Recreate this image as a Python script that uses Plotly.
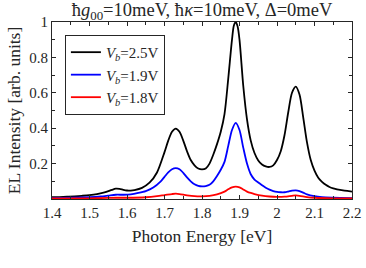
import plotly.graph_objects as go

# Black: V_b = 2.5 V
energy_25 = [1.40, 1.42, 1.44, 1.46, 1.48, 1.50, 1.52, 1.54, 1.56, 1.57, 1.58, 1.59, 1.60, 1.61, 1.62,
             1.64, 1.66, 1.68, 1.70, 1.71, 1.72, 1.73, 1.74, 1.75, 1.76, 1.77, 1.78, 1.79, 1.80, 1.81,
             1.82, 1.83, 1.84, 1.85, 1.86, 1.87, 1.88, 1.885, 1.89, 1.895, 1.90, 1.91, 1.92, 1.93, 1.94,
             1.95, 1.96, 1.97, 1.98, 1.99, 2.00, 2.01, 2.02, 2.03, 2.04, 2.05, 2.06, 2.07, 2.08, 2.09,
             2.10, 2.11, 2.12, 2.13, 2.14, 2.15, 2.16, 2.18, 2.20]
intensity_25 = [0.010, 0.011, 0.013, 0.015, 0.018, 0.022, 0.028, 0.037, 0.052, 0.058, 0.057, 0.052, 0.048, 0.047, 0.050,
                0.063, 0.092, 0.150, 0.265, 0.330, 0.380, 0.398, 0.380, 0.330, 0.270, 0.220, 0.190, 0.172, 0.167, 0.172,
                0.200, 0.250, 0.310, 0.380, 0.480, 0.680, 0.900, 0.980, 1.000, 0.975, 0.900, 0.640, 0.450, 0.330, 0.260,
                0.218, 0.195, 0.184, 0.181, 0.190, 0.220, 0.270, 0.360, 0.490, 0.600, 0.635, 0.590, 0.460, 0.320, 0.220,
                0.160, 0.120, 0.097, 0.080, 0.068, 0.060, 0.054, 0.047, 0.042]

# Blue: V_b = 1.9 V
energy_19 = [1.40, 1.45, 1.50, 1.53, 1.55, 1.57, 1.59, 1.61, 1.63, 1.65, 1.67, 1.69, 1.70, 1.71, 1.72,
             1.73, 1.74, 1.75, 1.76, 1.77, 1.78, 1.79, 1.80, 1.81, 1.82, 1.83, 1.84, 1.85, 1.86, 1.87,
             1.88, 1.89, 1.90, 1.91, 1.92, 1.93, 1.94, 1.95, 1.96, 1.97, 1.98, 1.99, 2.00, 2.01, 2.02,
             2.03, 2.04, 2.05, 2.06, 2.07, 2.08, 2.10, 2.12, 2.15, 2.20]
intensity_19 = [0.005, 0.007, 0.010, 0.014, 0.019, 0.024, 0.024, 0.026, 0.034, 0.045, 0.065, 0.100, 0.125, 0.150, 0.168,
                0.174, 0.168, 0.148, 0.122, 0.100, 0.083, 0.074, 0.071, 0.073, 0.080, 0.100, 0.130, 0.165, 0.210, 0.300,
                0.390, 0.430, 0.390, 0.290, 0.200, 0.140, 0.110, 0.093, 0.078, 0.064, 0.053, 0.045, 0.040, 0.038, 0.038,
                0.042, 0.047, 0.049, 0.045, 0.036, 0.026, 0.016, 0.011, 0.008, 0.005]

# Red: V_b = 1.8 V
energy_18 = [1.40, 1.50, 1.55, 1.57, 1.60, 1.65, 1.68, 1.70, 1.72, 1.73, 1.74, 1.76, 1.78, 1.80, 1.82,
             1.84, 1.86, 1.87, 1.88, 1.89, 1.90, 1.91, 1.92, 1.93, 1.94, 1.96, 1.98, 2.00, 2.02, 2.04,
             2.05, 2.06, 2.08, 2.10, 2.15, 2.20]
intensity_18 = [0.003, 0.004, 0.006, 0.007, 0.007, 0.010, 0.016, 0.022, 0.028, 0.030, 0.028, 0.021, 0.016, 0.015, 0.018,
                0.026, 0.042, 0.055, 0.066, 0.070, 0.066, 0.054, 0.042, 0.034, 0.028, 0.019, 0.014, 0.012, 0.013, 0.018,
                0.020, 0.018, 0.011, 0.007, 0.004, 0.003]

x_ticks = [1.4, 1.5, 1.6, 1.7, 1.8, 1.9, 2.0, 2.1, 2.2]
x_tick_labels = ["1.4", "1.5", "1.6", "1.7", "1.8", "1.9", "2", "2.1", "2.2"]
y_ticks = [0.2, 0.4, 0.6, 0.8, 1.0]
y_tick_labels = ["0.2", "0.4", "0.6", "0.8", "1"]

series_names = ["<i>V</i><sub><i>b</i></sub>=2.5V", "<i>V</i><sub><i>b</i></sub>=1.9V", "<i>V</i><sub><i>b</i></sub>=1.8V"]
title_text = "ħ<i>g</i><sub>00</sub>=10meV, ħ<i>κ</i>=10meV, Δ=0meV"

FONT = "Liberation Serif, DejaVu Serif, serif"
AX = "#262626"

fig = go.Figure()
for xs, ys, name, color in [(energy_25, intensity_25, series_names[0], "#000000"),
                            (energy_19, intensity_19, series_names[1], "#0000ff"),
                            (energy_18, intensity_18, series_names[2], "#ff0000")]:
    fig.add_trace(go.Scatter(x=xs, y=ys, mode="lines", name=name,
                             line=dict(color=color, width=1.8, shape="spline", smoothing=0.8)))

axis_common = dict(showline=True, linecolor=AX, linewidth=1, mirror="ticks", ticks="inside",
                   ticklen=4, tickcolor=AX, showgrid=False, zeroline=False, automargin=False,
                   tickfont=dict(family=FONT, size=15, color=AX))

fig.update_xaxes(range=[1.4, 2.2], tickvals=x_ticks, ticktext=x_tick_labels,
                 minor=dict(dtick=0.05, tick0=1.4, ticks="inside", ticklen=3, tickcolor=AX),
                 title=dict(text="Photon Energy [eV]", font=dict(family=FONT, size=17.5, color=AX), standoff=9),
                 **axis_common)
fig.update_yaxes(range=[0, 1], tickvals=y_ticks, ticktext=y_tick_labels,
                 minor=dict(dtick=0.1, tick0=0, ticks="inside", ticklen=3, tickcolor=AX),
                 title=dict(text="EL Intensity [arb. units]", font=dict(family=FONT, size=17.5, color=AX), standoff=4),
                 **axis_common)

fig.update_layout(
    width=366, height=268,
    margin=dict(l=52, r=14, t=22, b=69),
    paper_bgcolor="white", plot_bgcolor="white",
    font=dict(family=FONT, color=AX),
    title=dict(text=title_text, x=0.5, xref="paper", xanchor="center",
               y=1 - 10 / 268, yref="container", yanchor="middle",
               font=dict(family=FONT, size=18.5, color=AX)),
    legend=dict(x=0.043, y=0.927, xanchor="left", yanchor="top",
                bgcolor="white", bordercolor=AX, borderwidth=1,
                font=dict(family=FONT, size=15, color=AX),
                tracegroupgap=0, itemwidth=30),
    showlegend=True,
)

fig.write_html("out.html", config={"displayModeBar": False},
               post_script="document.body.style.margin='0';document.body.style.padding='0';")
